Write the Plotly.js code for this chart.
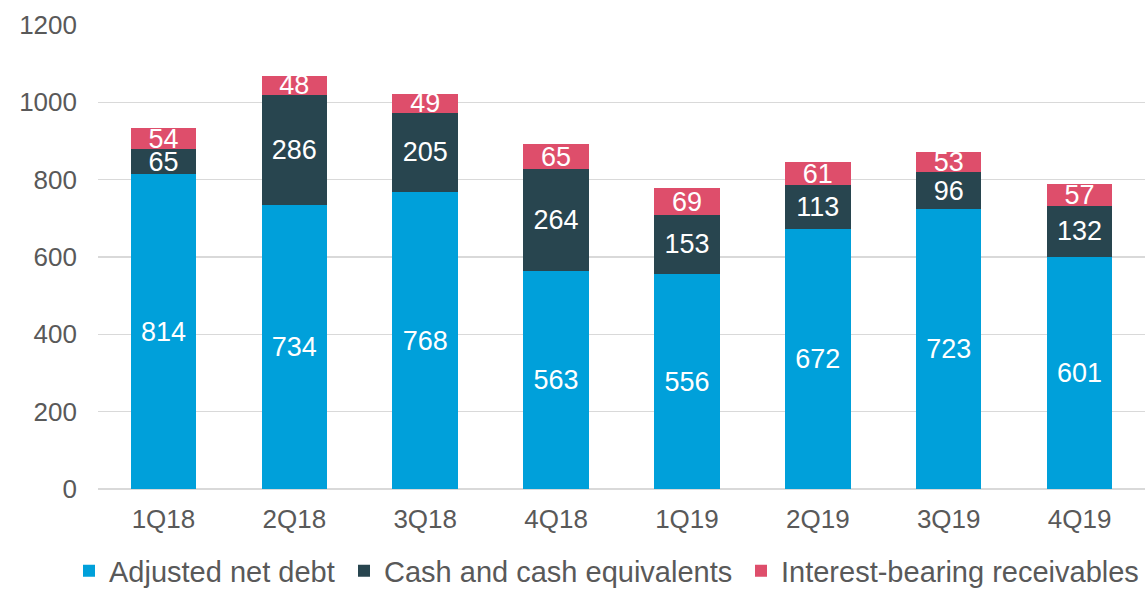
<!DOCTYPE html>
<html>
<head>
<meta charset="utf-8">
<script src="https://cdn.plot.ly/plotly-3.0.1.min.js"></script>
<style>html,body{margin:0;padding:0;background:#fff;}#chart{width:1145px;height:589px;}</style>
</head>
<body>
<div id="chart"></div>
<script>
const categories = ['1Q18','2Q18','3Q18','4Q18','1Q19','2Q19','3Q19','4Q19'];
const adjustedNetDebt = [814, 734, 768, 563, 556, 672, 723, 601];
const cashEquivalents = [65, 286, 205, 264, 153, 113, 96, 132];
const interestReceivables = [54, 48, 49, 65, 69, 61, 53, 57];
const yTicks = [0, 200, 400, 600, 800, 1000, 1200];

const FONT = 'Liberation Sans, Arial, sans-serif';
const W = 1145, H = 589;
function series(name, vals, color, legendId) {
  return {
    type: 'bar', name: name, x: categories, y: vals, legend: legendId,
    text: vals.map(String), textposition: 'inside', insidetextanchor: 'middle',
    textangle: 0, constraintext: 'none', cliponaxis: false,
    textfont: {family: FONT, size: 27, color: '#ffffff'},
    marker: {color: color, line: {width: 0}},
    hoverinfo: 'skip'
  };
}
const data = [
  series('Adjusted net debt', adjustedNetDebt, '#00A0DA', 'legend'),
  series('Cash and cash equivalents', cashEquivalents, '#28454F', 'legend2'),
  series('Interest-bearing receivables', interestReceivables, '#DE4E6B', 'legend3')
];
function leg(px) {
  return {orientation: 'h', xref: 'container', yref: 'container',
          x: px / W, xanchor: 'left', y: 1 - 571 / H, yanchor: 'middle',
          bgcolor: 'rgba(0,0,0,0)', borderwidth: 0,
          font: {family: FONT, size: 29, color: '#595959'}};
}
const layout = {
  width: W, height: H,
  margin: {l: 98, r: 0, t: 25, b: 100},
  barmode: 'stack', bargap: 0.5,
  paper_bgcolor: '#ffffff', plot_bgcolor: '#ffffff',
  font: {family: FONT, color: '#595959'},
  showlegend: true,
  legend: leg(69),
  legend2: leg(344),
  legend3: leg(741),
  xaxis: {type: 'category', tickfont: {family: FONT, size: 26, color: '#595959'},
          showgrid: false, showline: false, ticks: '', ticklabelstandoff: 12, fixedrange: true},
  yaxis: {range: [0, 1200], tickvals: yTicks, ticktext: yTicks.map(String),
          tickfont: {family: FONT, size: 26, color: '#595959'},
          showgrid: true, gridcolor: '#D9D9D9', gridwidth: 1.5, zeroline: true,
          zerolinecolor: '#D9D9D9', zerolinewidth: 1.5, showline: false, ticks: '',
          ticklabelstandoff: 20, fixedrange: true}
};
Plotly.newPlot('chart', data, layout, {displayModeBar: false, staticPlot: true});
</script>
</body>
</html>
